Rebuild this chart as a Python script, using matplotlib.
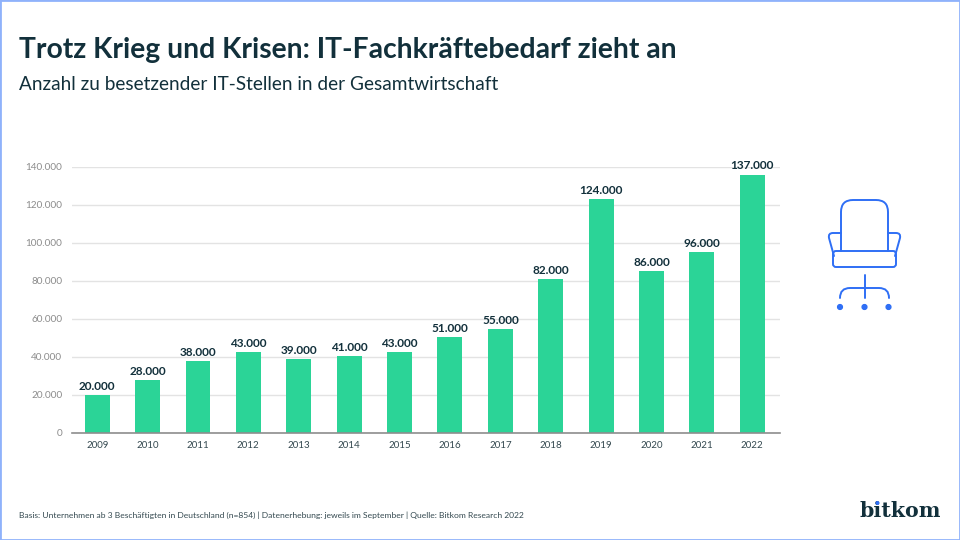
import matplotlib
matplotlib.use('Agg')
import matplotlib.pyplot as plt
import matplotlib.patches as mpatches
from matplotlib.path import Path

DARK = '#12303B'
GREEN = '#2BD497'
BLUE = '#2F6FF5'
W, H = 960, 540

years = ['2009', '2010', '2011', '2012', '2013', '2014', '2015', '2016', '2017', '2018', '2019', '2020', '2021', '2022']
# printed labels
labels = ['20.000', '28.000', '38.000', '43.000', '39.000', '41.000', '43.000', '51.000', '55.000', '82.000', '124.000', '86.000', '96.000', '137.000']
# bar heights, they sit a bit under the printed numbers
heights = [19800, 27800, 37700, 42500, 38700, 40400, 42500, 50400, 54500, 80800, 122800, 85000, 95000, 135600]
y_ticks = [0, 20000, 40000, 60000, 80000, 100000, 120000, 140000]
y_tick_labels = ['0', '20.000', '40.000', '60.000', '80.000', '100.000', '120.000', '140.000']

plt.rcParams['font.family'] = ['Lato', 'DejaVu Sans']
fig = plt.figure(figsize=(W / 100, H / 100), dpi=100)

# overlay in pixel coords for the texts and the icon
bg = fig.add_axes([0, 0, 1, 1])
bg.set_xlim(0, W)
bg.set_ylim(H, 0)
bg.set_xticks([])
bg.set_yticks([])
for s in bg.spines.values():
    s.set_color('#8FB2FB')
    s.set_linewidth(2)

bg.text(19, 50, 'Trotz Krieg und Krisen: IT-Fachkräftebedarf zieht an', fontsize=20.3, fontweight='bold',
        color=DARK, va='center')
bg.text(19, 85, 'Anzahl zu besetzender IT-Stellen in der Gesamtwirtschaft', fontsize=13.65, color=DARK, va='center')
bg.text(19, 515, 'Basis: Unternehmen ab 3 Beschäftigten in Deutschland (n=854) | Datenerhebung: jeweils im September | Quelle: Bitkom Research 2022',
        fontsize=6.12, color='#33484F', va='center')

# logo
bg.text(860, 511, 'bitkom', fontsize=14.8, fontweight='bold', color=DARK, va='center', family='DejaVu Serif')
bg.add_patch(mpatches.Circle((877.5, 503), 1.3, color=BLUE, zorder=5))

# chair icon
def line(pts):
    codes = [Path.MOVETO] + [Path.LINETO] * (len(pts) - 1)
    bg.add_patch(mpatches.PathPatch(Path(pts, codes), fill=False, ec=BLUE, lw=1.4, capstyle='round', joinstyle='round'))

def curve(verts, codes):
    bg.add_patch(mpatches.PathPatch(Path(verts, codes), fill=False, ec=BLUE, lw=1.4, capstyle='round'))

M, L, C = Path.MOVETO, Path.LINETO, Path.CURVE3
curve([(841, 251), (841, 212), (841, 200), (853, 200), (876, 200), (888, 200), (888, 212), (888, 251)],
      [M, L, C, C, L, C, C, L])
bg.add_patch(mpatches.FancyBboxPatch((833, 251), 63, 16, boxstyle='round,pad=0,rounding_size=3', fill=False, ec=BLUE, lw=1.4))
curve([(841, 233), (833, 233), (828, 233), (829, 238), (834, 256)], [M, L, C, C, L])
curve([(888, 233), (896, 233), (901, 233), (900, 238), (895, 256)], [M, L, C, C, L])
line([(864.5, 275), (864.5, 298)])
curve([(840, 298), (840, 288), (850, 288), (879, 288), (889, 288), (889, 298)], [M, C, C, L, C, C])
for x in (840, 864.5, 888.5):
    bg.add_patch(mpatches.Circle((x, 307), 2.4, color=BLUE))

# bar chart, axes box from pixel positions
left, right, top, bottom = 72, 780, 166.5, 433
ax = fig.add_axes([left / W, 1 - bottom / H, (right - left) / W, (bottom - top) / H])
ax.patch.set_alpha(0)
x = range(len(years))
ax.bar(x, heights, width=0.495, color=GREEN, zorder=2)
for i, lab in enumerate(labels):
    ax.text(i, heights[i] + 1800, lab, ha='center', va='bottom', fontsize=8.5, fontweight='bold', color=DARK, zorder=3)
ax.set_xlim(-0.5, 13.55)
ax.set_ylim(0, 140000)
ax.set_xticks(list(x), years)
ax.set_yticks(y_ticks, y_tick_labels)
ax.tick_params(axis='both', length=0)
ax.tick_params(axis='x', labelsize=7.0, labelcolor='#33484F', pad=6)
ax.tick_params(axis='y', labelsize=7.2, labelcolor='#8C8C8C', pad=7)
ax.grid(axis='y', color='#E3E3E3', lw=1, zorder=0)
ax.grid(axis='x', visible=False)
for s in ['top', 'left', 'right']:
    ax.spines[s].set_visible(False)
ax.spines['bottom'].set_color('#8E8E8E')
ax.spines['bottom'].set_linewidth(1.2)
ax.spines['bottom'].set_zorder(4)

fig.savefig('out.png', dpi=100)
